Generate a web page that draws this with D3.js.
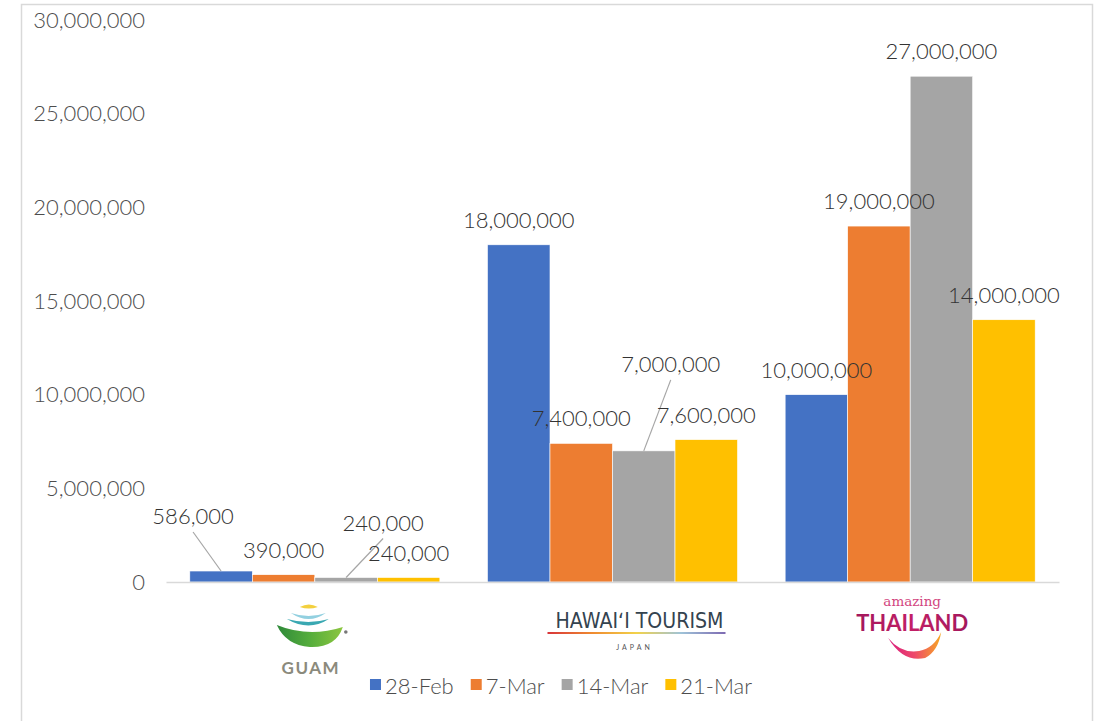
<!DOCTYPE html>
<html>
<head>
<meta charset="utf-8">
<script src="https://cdn.jsdelivr.net/npm/d3@7"></script>
<style>
  html, body { margin: 0; padding: 0; background: #fff; }
  svg { display: block; font-family: Lato, "Open Sans", sans-serif; }
</style>
</head>
<body>
<script>
// chart data
const categories = ['Guam', 'Hawaii Tourism Japan', 'Amazing Thailand'];
const seriesNames = ['28-Feb', '7-Mar', '14-Mar', '21-Mar'];
const feb28 = [586000, 18000000, 10000000];
const mar7 = [390000, 7400000, 19000000];
const mar14 = [240000, 7000000, 27000000];
const mar21 = [240000, 7600000, 14000000];
const yTicks = [0, 5000000, 10000000, 15000000, 20000000, 25000000, 30000000];

const colors = ['#4472C4', '#ED7D31', '#A5A5A5', '#FFC000'];
const seriesValues = [feb28, mar7, mar14, mar21];

const w = 1094;
const h = 721;
const margin = { left: 166, right: 35, top: 20, bottom: 139 };

const svg = d3.select('body').append('svg')
  .attr('width', w)
  .attr('height', h);

// chart border (Excel chart area)
svg.append('rect')
  .attr('x', 21.5).attr('y', 4.5)
  .attr('width', 1071).attr('height', 760)
  .attr('fill', '#fff')
  .attr('stroke', '#d9d9d9')
  .attr('stroke-width', 1.5);

const x0 = d3.scaleBand()
  .domain(categories)
  .range([margin.left, w - margin.right])
  .paddingInner(0.16)
  .paddingOuter(0.08);

const x1 = d3.scaleBand()
  .domain(seriesNames)
  .range([0, x0.bandwidth()]);

const y = d3.scaleLinear()
  .domain([0, 30000000])
  .range([h - margin.bottom, margin.top]);

const fmt = d3.format(',');

// y axis (labels only)
const yAxis = d3.axisLeft(y)
  .tickValues(yTicks)
  .tickFormat(fmt)
  .tickSize(0)
  .tickPadding(21);

const yg = svg.append('g')
  .attr('transform', `translate(${margin.left},0)`)
  .call(yAxis);
yg.select('.domain').remove();
yg.selectAll('text')
  .attr('font-family', 'Lato, sans-serif')
  .attr('font-size', 22)
  .attr('font-weight', 300)
  .attr('fill', '#4d4d4d');

// bars
const rows = [];
categories.forEach((c, i) => {
  seriesNames.forEach((s, j) => {
    rows.push({ cat: c, series: s, si: j, ci: i, value: seriesValues[j][i] });
  });
});

svg.append('g').selectAll('rect')
  .data(rows)
  .enter()
  .append('rect')
  .attr('x', d => x0(d.cat) + x1(d.series))
  .attr('y', d => y(d.value))
  .attr('width', x1.bandwidth())
  .attr('height', d => y(0) - y(d.value))
  .attr('fill', d => colors[d.si])
  .attr('stroke', '#fff')
  .attr('stroke-width', 0.6);

// x axis baseline
const xAxis = d3.axisBottom(x0).tickSize(0).tickFormat('');
const xg = svg.append('g')
  .attr('transform', `translate(0,${y(0)})`)
  .call(xAxis);
xg.select('.domain')
  .attr('stroke', '#d9d9d9')
  .attr('stroke-width', 1.5);

// data labels; a few were dragged away from their bars in the original
const moved = {
  'Guam|28-Feb': [-28, -47],
  'Guam|14-Mar': [37, -47],
  'Hawaii Tourism Japan|14-Mar': [27, -79]
};

const labels = svg.append('g');
rows.forEach(d => {
  const cx = x0(d.cat) + x1(d.series) + x1.bandwidth() / 2;
  const top = y(d.value);
  const off = moved[d.cat + '|' + d.series];
  const lx = off ? cx + off[0] : cx;
  const ly = off ? top + off[1] : top - 17;
  if (off) {
    labels.append('line')
      .attr('x1', lx).attr('y1', ly + 8)
      .attr('x2', cx).attr('y2', top)
      .attr('stroke', '#a6a6a6')
      .attr('stroke-width', 1.2);
  }
  labels.append('text')
    .attr('x', lx)
    .attr('y', ly)
    .attr('text-anchor', 'middle')
    .attr('font-size', 22)
    .attr('font-weight', 300)
    .attr('fill', '#333')
    .text(fmt(d.value));
});

// category logos in place of tick labels
const defs = svg.append('defs');
function grad(id, stops, x2, y2) {
  const g = defs.append('linearGradient').attr('id', id)
    .attr('x1', 0).attr('y1', 0).attr('x2', x2 === undefined ? 1 : x2).attr('y2', y2 || 0);
  stops.forEach((c, i) => g.append('stop')
    .attr('offset', i / (stops.length - 1)).attr('stop-color', c));
}
grad('guamGreen', ['#2f8a3a', '#55ad3c', '#8cc63f']);
grad('hawaiiLine', ['#d8343a', '#ef8a2f', '#f2d24a', '#9fc3d8', '#7d6ab2']);
grad('thaiSwoosh', ['#d81b7e', '#ee4a6a', '#f7a823']);
grad('thaiText', ['#a3175c', '#c21f66', '#a3175c']);

function drawGuam(g) {
  g.append('path').attr('d', 'M-14,25 Q-5,20 4,25 Q-5,28 -14,25 Z').attr('fill', '#f3d03e');
  g.append('path').attr('d', 'M-23,31 Q-5,37 12,31 Q-5,43 -23,31 Z').attr('fill', '#92d0e0');
  g.append('path').attr('d', 'M-27,37 Q-5,43 15,37 Q-5,50 -27,37 Z').attr('fill', '#3aa8b2');
  g.append('path').attr('d', 'M-37,43 Q-5,56 29,45 Q22,66 -4,65 Q-28,63 -37,43 Z')
    .attr('fill', 'url(#guamGreen)');
  g.append('circle').attr('cx', 32).attr('cy', 50).attr('r', 1.8).attr('fill', '#777');
  g.append('text').attr('x', -3).attr('y', 92)
    .attr('text-anchor', 'middle')
    .attr('font-size', 17).attr('font-weight', 'bold')
    .attr('letter-spacing', 1.5)
    .attr('fill', '#8b8a7c')
    .text('GUAM');
}

function drawHawaii(g) {
  g.append('text').attr('x', -70).attr('y', 46)
    .attr('textLength', 168).attr('lengthAdjust', 'spacingAndGlyphs')
    .attr('font-family', '"DejaVu Sans", sans-serif')
    .attr('font-size', 21)
    .attr('fill', '#34434f')
    .text('HAWAIʻI TOURISM');
  g.append('rect').attr('x', -78).attr('y', 50)
    .attr('width', 178).attr('height', 2)
    .attr('fill', 'url(#hawaiiLine)');
  g.append('text').attr('x', 9).attr('y', 68)
    .attr('text-anchor', 'middle')
    .attr('font-size', 7).attr('letter-spacing', 3)
    .attr('fill', '#555')
    .text('JAPAN');
}

function drawThailand(g) {
  g.append('text').attr('x', 1).attr('y', 24)
    .attr('text-anchor', 'middle')
    .attr('font-family', '"DejaVu Serif", serif')
    .attr('font-size', 13.5)
    .attr('fill', '#d2457e')
    .text('amazing');
  g.append('text').attr('x', -55).attr('y', 49)
    .attr('textLength', 112).attr('lengthAdjust', 'spacingAndGlyphs')
    .attr('font-size', 22).attr('font-weight', 'bold')
    .attr('fill', 'url(#thaiText)')
    .text('THAILAND');
  g.append('path')
    .attr('d', 'M-23,56 Q-8,81 14,76 Q27,69 30,50 Q23,66 8,69 Q-10,72 -23,56 Z')
    .attr('fill', 'url(#thaiSwoosh)');
}

const logoFns = [drawGuam, drawHawaii, drawThailand];
const logoShift = [-1, 13, 1];
categories.forEach((c, i) => {
  const g = svg.append('g')
    .attr('transform', `translate(${x0(c) + x0.bandwidth() / 2 + logoShift[i]},${y(0)})`);
  logoFns[i](g);
});

// legend
const legend = svg.append('g');
let lx = 0;
seriesNames.forEach((s, i) => {
  const item = legend.append('g').attr('transform', `translate(${lx},0)`);
  item.append('rect')
    .attr('x', 0).attr('y', 679)
    .attr('width', 11).attr('height', 11)
    .attr('fill', colors[i]);
  const t = item.append('text')
    .attr('x', 15).attr('y', 694)
    .attr('font-size', 22)
    .attr('font-weight', 300)
    .attr('fill', '#4d4d4d')
    .text(s);
  lx += 15 + t.node().getComputedTextLength() + 17;
});
const legendW = lx - 17;
legend.attr('transform', `translate(${561 - legendW / 2},0)`);
</script>
</body>
</html>
